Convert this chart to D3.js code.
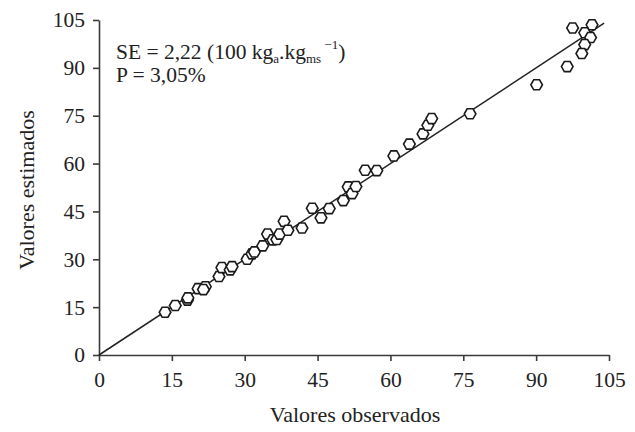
<!DOCTYPE html>
<html><head><meta charset="utf-8">
<script src="https://cdn.jsdelivr.net/npm/d3@7/dist/d3.min.js"></script>
<style>body{margin:0;background:#fff}svg{display:block}</style>
</head><body>
<script>
const observed = [13.6,15.7,18.2,18.3,20.4,21.9,21.5,24.7,25.3,27.0,27.4,30.5,31.5,32.0,33.7,34.7,35.8,36.6,37.2,38.1,38.9,41.8,43.9,45.7,47.4,50.3,51.3,52.1,52.9,54.8,57.2,60.7,63.9,66.7,67.7,68.5,76.4,90.1,96.4,97.5,101.5,100.0,101.2,100.0,99.4];
const estimated = [13.4,15.5,17.2,17.9,20.8,21.4,20.5,24.6,27.4,26.7,27.7,30.0,31.7,32.3,34.2,37.9,36.1,36.2,37.9,41.9,39.1,39.8,46.0,43.0,45.9,48.4,52.7,50.6,52.8,57.9,57.8,62.4,66.1,69.3,72.0,74.1,75.6,84.7,90.4,102.5,103.5,101.0,99.5,97.3,94.5];
const lineEnds = [0, 104];
const ticks = [0,15,30,45,60,75,90,105];
const xTitle = "Valores observados";
const yTitle = "Valores estimados";

const W = 635, H = 432;
const font = "'Liberation Serif', 'Times New Roman', serif";
const svg = d3.select("body").append("svg").attr("width", W).attr("height", H);
const x = d3.scaleLinear().domain([0,105]).range([99,609]);
const y = d3.scaleLinear().domain([0,105]).range([355,20]);

const axisColor = "#3a3a3a";
const gx = svg.append("g").attr("transform","translate(0,355)")
  .call(d3.axisBottom(x).tickValues(ticks).tickSizeInner(6).tickSizeOuter(0).tickPadding(11));
const gy = svg.append("g").attr("transform","translate(99,0)")
  .call(d3.axisLeft(y).tickValues(ticks).tickSizeInner(6).tickSizeOuter(0).tickPadding(8));
[gx,gy].forEach(g=>{
  g.selectAll("path,line").attr("stroke",axisColor).attr("stroke-width",1.6);
  g.selectAll("text").attr("font-family",font).attr("font-size",21.5).attr("fill","#222");
});

// 1:1 line
svg.append("line")
  .attr("x1",x(lineEnds[0])).attr("y1",y(lineEnds[0]))
  .attr("x2",x(lineEnds[1])).attr("y2",y(lineEnds[1]))
  .attr("stroke","#222").attr("stroke-width",1.5);

// hexagon markers
const r = 5.8;
const hex = d3.range(6).map(i=>{const a=Math.PI/3*i; return [r*Math.cos(a), r*Math.sin(a)];});
const hexPath = "M"+hex.map(p=>p.join(",")).join("L")+"Z";
svg.append("g").selectAll("path").data(observed.map((o,i)=>[o,estimated[i]])).join("path")
  .attr("d",hexPath)
  .attr("transform",d=>`translate(${x(d[0])},${y(d[1])})`)
  .attr("fill","#fff").attr("stroke","#1a1a1a").attr("stroke-width",1.6);

// titles
svg.append("text").attr("x",355).attr("y",422).attr("text-anchor","middle")
  .attr("font-family",font).attr("font-size",22).attr("fill","#222").text(xTitle);
svg.append("text").attr("transform","translate(34,190) rotate(-90)").attr("text-anchor","middle")
  .attr("font-family",font).attr("font-size",22).attr("fill","#222").text(yTitle);

// annotation
const ann = svg.append("text").attr("x",116).attr("y",59).attr("font-family",font).attr("font-size",21.5).attr("fill","#222");
ann.append("tspan").text("SE = 2,22 (100 kg");
ann.append("tspan").attr("font-size",13).attr("dy",4).text("a");
ann.append("tspan").attr("dy",-4).text(".kg");
ann.append("tspan").attr("font-size",13).attr("dy",4).text("ms");
ann.append("tspan").attr("font-size",13).attr("dy",-14).text(" \u22121");
ann.append("tspan").attr("dy",10).text(")");
svg.append("text").attr("x",116).attr("y",82).attr("font-family",font).attr("font-size",21.5).attr("fill","#222").text("P = 3,05%");
</script>
</body></html>
